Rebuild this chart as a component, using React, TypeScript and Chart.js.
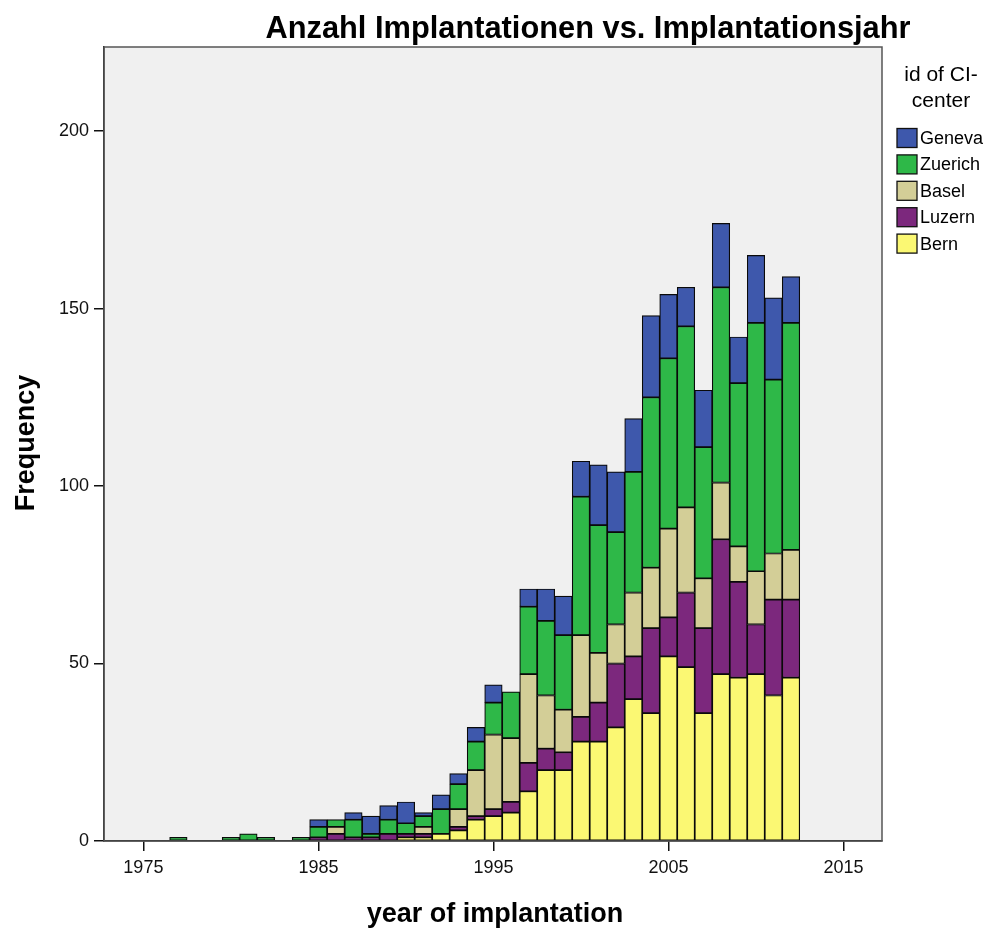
import React, { useEffect, useRef } from "react";
import { Chart, registerables } from "chart.js";

Chart.register(...registerables);

// ---------- data ----------
const years = [
  1977, 1980, 1981, 1982, 1984, 1985, 1986, 1987, 1988, 1989, 1990, 1991, 1992,
  1993, 1994, 1995, 1996, 1997, 1998, 1999, 2000, 2001, 2002, 2003, 2004, 2005,
  2006, 2007, 2008, 2009, 2010, 2011, 2012,
];
const bern = [
  0, 0, 0, 0, 0, 0, 0, 0, 0, 0, 1, 1, 2, 3, 6, 7, 8, 14, 20, 20, 28, 28, 32, 40,
  36, 52, 49, 36, 47, 46, 47, 41, 46,
];
const luzern = [
  0, 0, 0, 0, 0, 1, 2, 1, 1, 2, 1, 1, 0, 1, 1, 2, 3, 8, 6, 5, 7, 11, 18, 12, 24,
  11, 21, 24, 38, 27, 14, 27, 22,
];
const basel = [
  0, 0, 0, 0, 0, 0, 2, 0, 0, 0, 0, 2, 0, 5, 13, 21, 18, 25, 15, 12, 23, 14, 11,
  18, 17, 25, 24, 14, 16, 10, 15, 13, 14,
];
const zuerich = [
  1, 1, 2, 1, 1, 3, 2, 5, 1, 4, 3, 3, 7, 7, 8, 9, 13, 19, 21, 21, 39, 36, 26, 34,
  48, 48, 51, 37, 55, 46, 70, 49, 64,
];
const geneva = [
  0, 0, 0, 0, 0, 2, 0, 2, 5, 4, 6, 1, 4, 3, 4, 5, 0, 5, 9, 11, 10, 17, 17, 15,
  23, 18, 11, 16, 18, 13, 19, 23, 13,
];
const seriesNames = ["Bern", "Luzern", "Basel", "Zuerich", "Geneva"];
const seriesValues = [bern, luzern, basel, zuerich, geneva];
const seriesColors = ["#FBF873", "#7C287D", "#D3CE97", "#2EB848", "#3E58AC"];

const xTickValues = [1975, 1985, 1995, 2005, 2015];
const yTickValues = [0, 50, 100, 150, 200];
const xMin = 1972.75;
const xMax = 2017.2;
const yMax = 223.7;

const chartTitle = "Anzahl Implantationen vs. Implantationsjahr";
const xTitle = "year of implantation";
const yTitle = "Frequency";
const legendTitle = ["id of CI-", "center"];

const FONT = '"Liberation Sans", Arial, sans-serif';

const decorPlugin = {
  id: "decor",
  beforeDraw(chart: any) {
    const { ctx, chartArea } = chart;
    ctx.save();
    ctx.fillStyle = "#ffffff";
    ctx.fillRect(0, 0, chart.width, chart.height);
    ctx.fillStyle = "#F0F0F0";
    ctx.fillRect(
      chartArea.left,
      chartArea.top,
      chartArea.right - chartArea.left,
      chartArea.bottom - chartArea.top
    );
    ctx.restore();
  },
  afterDraw(chart: any) {
    const { ctx, chartArea } = chart;
    ctx.save();
    // plot frame
    ctx.strokeStyle = "#555";
    ctx.lineWidth = 1.5;
    ctx.strokeRect(
      chartArea.left,
      chartArea.top,
      chartArea.right - chartArea.left,
      chartArea.bottom - chartArea.top
    );

    ctx.fillStyle = "#000";
    // chart title
    ctx.font = `bold 31px ${FONT}`;
    ctx.textAlign = "center";
    ctx.textBaseline = "alphabetic";
    ctx.fillText(chartTitle, 588, 38, 645);

    // x title
    ctx.font = `bold 27px ${FONT}`;
    ctx.fillText(xTitle, 495, 922, 266);

    // y title
    ctx.save();
    ctx.translate(34, 443);
    ctx.rotate(-Math.PI / 2);
    ctx.fillText(yTitle, 0, 0, 143);
    ctx.restore();

    // legend
    ctx.font = `21px ${FONT}`;
    ctx.textBaseline = "middle";
    ctx.fillText(legendTitle[0], 941, 75);
    ctx.fillText(legendTitle[1], 941, 101);

    const ds = chart.data.datasets;
    ctx.font = `18px ${FONT}`;
    ctx.textAlign = "left";
    for (let i = ds.length - 1, r = 0; i >= 0; i--, r++) {
      const yc = 138 + r * 26.4;
      ctx.fillStyle = ds[i].backgroundColor;
      ctx.fillRect(897, yc - 9.5, 20, 19);
      ctx.strokeStyle = "#111";
      ctx.lineWidth = 1.3;
      ctx.strokeRect(897, yc - 9.5, 20, 19);
      ctx.fillStyle = "#000";
      ctx.fillText(ds[i].label, 920, yc + 1);
    }
    ctx.restore();
  },
};

export default function App() {
  const ref = useRef<HTMLCanvasElement | null>(null);

  useEffect(() => {
    document.body.style.margin = "0";
    const canvas = ref.current;
    if (!canvas) return;

    const datasets = seriesNames.map((name, si) => ({
      label: name,
      data: years.map((yr, i) => ({
        x: yr,
        y: seriesValues[si][i] === 0 ? null : seriesValues[si][i],
      })),
      backgroundColor: seriesColors[si],
      borderColor: "#0a0a0a",
      borderWidth: 1.2,
      borderSkipped: false,
      barPercentage: 1,
      categoryPercentage: 1,
    }));

    const tickFont = { family: FONT, size: 18 };

    const chart = new Chart(canvas, {
      type: "bar",
      data: { datasets },
      plugins: [decorPlugin],
      options: {
        animation: false,
        responsive: false,
        maintainAspectRatio: false,
        layout: { padding: { left: 0, right: 116, top: 47, bottom: 0 } },
        plugins: {
          legend: { display: false },
          title: { display: false },
          tooltip: { enabled: false },
        },
        scales: {
          x: {
            type: "linear",
            min: xMin,
            max: xMax,
            stacked: true,
            offset: false,
            afterBuildTicks: (s: any) => {
              s.ticks = xTickValues.map((v) => ({ value: v }));
            },
            afterFit: (s: any) => {
              s.height = 91;
            },
            ticks: {
              font: tickFont,
              color: "#111",
              padding: 6,
              maxRotation: 0,
              autoSkip: false,
              callback: (v: any) => String(v),
            },
            grid: {
              offset: false,
              drawOnChartArea: false,
              drawTicks: true,
              tickLength: 10,
              color: "#111",
              lineWidth: 1.5,
            },
            border: { display: true, color: "#111", width: 1.5 },
          },
          y: {
            type: "linear",
            min: 0,
            max: yMax,
            stacked: true,
            afterBuildTicks: (s: any) => {
              s.ticks = yTickValues.map((v) => ({ value: v }));
            },
            afterFit: (s: any) => {
              s.width = 104;
            },
            ticks: {
              font: tickFont,
              color: "#111",
              padding: 5,
              autoSkip: false,
              callback: (v: any) => String(v),
            },
            grid: {
              drawOnChartArea: false,
              drawTicks: true,
              tickLength: 10,
              color: "#111",
              lineWidth: 1.5,
            },
            border: { display: true, color: "#111", width: 1.5 },
          },
        },
      },
    } as any);

    return () => chart.destroy();
  }, []);

  return (
    <div
      style={{
        position: "absolute",
        left: 0,
        top: 0,
        width: 998,
        height: 932,
        background: "#fff",
      }}
    >
      <canvas ref={ref} width={998} height={932} style={{ display: "block" }} />
    </div>
  );
}
